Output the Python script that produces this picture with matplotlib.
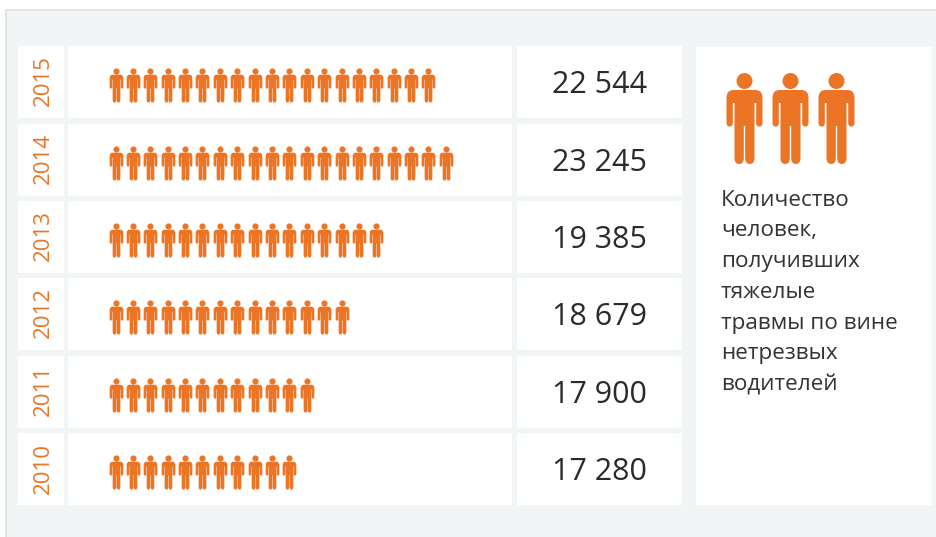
import numpy as np
import matplotlib
matplotlib.use('Agg')
import matplotlib.pyplot as plt
from matplotlib.path import Path
from matplotlib.patches import Rectangle

years = ['2015', '2014', '2013', '2012', '2011', '2010']
values = ['22 544', '23 245', '19 385', '18 679', '17 900', '17 280']
icon_counts = [19, 20, 16, 14, 12, 11]
row_tops = [46, 124, 201, 278, 356, 433]
legend_lines = ['Количество', 'человек,', 'получивших', 'тяжелые',
                'травмы по вине', 'нетрезвых', 'водителей']

ORANGE = '#eb7425'
BG = '#f1f5f6'
ROW_H = 72


def person_path(gap=1.7, slit=0.7):
    # контур человечка, высота 91, потом нормируем до 1
    head = Path.circle((0, 8), 8)
    L, C = Path.LINETO, Path.CURVE3
    inner = 10 + gap
    # правая половина сверху вниз: (точка, код)
    right = [((0, 17), Path.MOVETO), ((11, 17), L), ((18, 17), C), ((18, 25), C),
             ((18, 50), L), ((18, 53.5), C), ((14.7, 53.5), C), ((inner, 53.5), C),
             ((inner, 50), C), ((inner, 30), L), ((10, 30), L), ((10, 85), L),
             ((10, 91), C), ((5.3, 91), C), ((slit, 91), C), ((slit, 85), C),
             ((slit, 53), L), ((0, 53), L)]
    verts = [p for p, _ in right]
    codes = [c for _, c in right]
    # левая половина: зеркально, снизу вверх
    for i in range(len(right) - 2, -1, -1):
        verts.append((-right[i][0][0], right[i][0][1]))
        codes.append(right[i + 1][1] if right[i + 1][1] != Path.MOVETO else L)
    body = Path(verts, codes)
    p = Path.make_compound_path(head, body)
    out = (p.vertices - [0, 45.5]) * [1, -1] / 91.0
    return Path(out, p.codes)


def main():
    fig = plt.figure(figsize=(9.37, 5.37), dpi=100, facecolor='white')
    ax = fig.add_axes([0, 0, 1, 1])
    ax.set_xlim(0, 937)
    ax.set_ylim(537, 0)
    ax.axis('off')

    small = person_path(gap=1.6, slit=0.8)
    big = person_path()

    # фон
    ax.add_patch(Rectangle((6, 10), 940, 540, fc=BG, ec='#e2e4e5', lw=1.5))

    for year, value, n, top in zip(years, values, icon_counts, row_tops):
        ax.add_patch(Rectangle((18, top), 46, ROW_H, fc='white', ec='none'))
        ax.add_patch(Rectangle((68, top), 444, ROW_H, fc='white', ec='none'))
        ax.add_patch(Rectangle((517, top), 165, ROW_H, fc='white', ec='none'))
        ax.text(43, top + 35, year, rotation=90, ha='center', va='center',
                family='Open Sans', fontsize=16, color=ORANGE)
        ax.text(599.5, top + 39, value, ha='center', va='center',
                family='Open Sans', fontsize=22, color='#2a2a2a')
        ax.scatter(115.6 + np.arange(n) * 17.38, np.full(n, top + 39),
                   marker=small, s=600, c=ORANGE, edgecolors=ORANGE, linewidths=0.1)

    # правая панель
    ax.add_patch(Rectangle((696, 47), 236, 458, fc='white', ec='none'))
    ax.scatter([744, 790, 836], [117.5, 117.5, 117.5], marker=big, s=4290,
               c=ORANGE, linewidths=0)
    for i, line in enumerate(legend_lines):
        ax.text(721, 200 + i * 30.8, line, ha='left', va='center',
                family='Open Sans', fontsize=16.2, color='#333333')

    fig.savefig('out.png', dpi=100)


if __name__ == '__main__':
    main()
